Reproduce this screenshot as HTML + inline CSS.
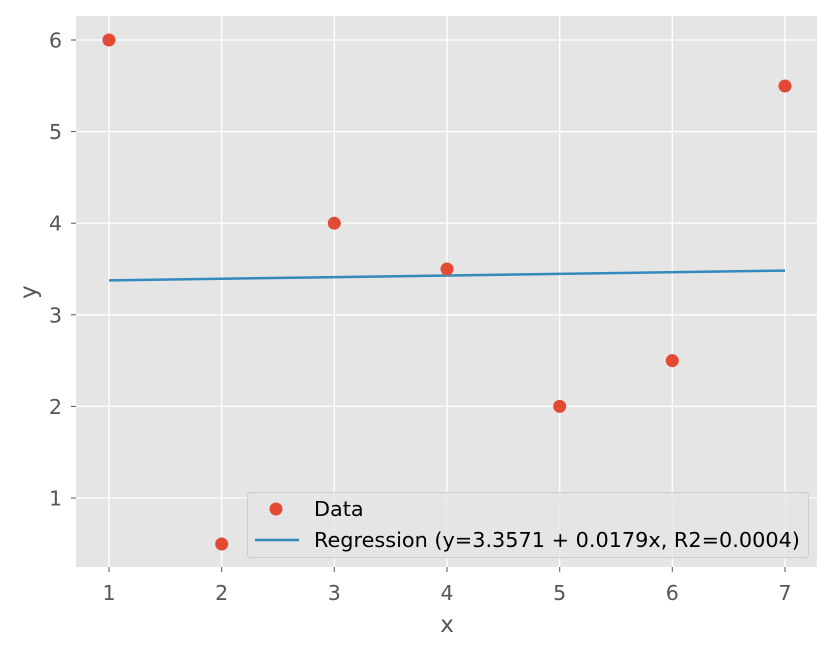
<!DOCTYPE html>
<html><head><meta charset="utf-8"><style>body{margin:0;background:#fff}svg{display:block}</style></head>
<body>
<svg width="834" height="651" viewBox="0 0 834 651" xmlns="http://www.w3.org/2000/svg" font-family="DejaVu Sans, Liberation Sans, sans-serif">
<rect x="76" y="16" width="741" height="551" fill="#e5e5e5"/>
<g stroke="#fff" stroke-width="1.3">
<line x1="109" y1="16" x2="109" y2="567"/><line x1="221.7" y1="16" x2="221.7" y2="567"/>
<line x1="334.3" y1="16" x2="334.3" y2="567"/><line x1="447" y1="16" x2="447" y2="567"/>
<line x1="559.7" y1="16" x2="559.7" y2="567"/><line x1="672.3" y1="16" x2="672.3" y2="567"/>
<line x1="785" y1="16" x2="785" y2="567"/>
<line x1="76" y1="40" x2="817" y2="40"/><line x1="76" y1="131.6" x2="817" y2="131.6"/>
<line x1="76" y1="223.2" x2="817" y2="223.2"/><line x1="76" y1="314.8" x2="817" y2="314.8"/>
<line x1="76" y1="406.4" x2="817" y2="406.4"/><line x1="76" y1="498" x2="817" y2="498"/>
</g>
<g stroke="#555" stroke-width="1">
<line x1="109" y1="567" x2="109" y2="572"/><line x1="221.7" y1="567" x2="221.7" y2="572"/>
<line x1="334.3" y1="567" x2="334.3" y2="572"/><line x1="447" y1="567" x2="447" y2="572"/>
<line x1="559.7" y1="567" x2="559.7" y2="572"/><line x1="672.3" y1="567" x2="672.3" y2="572"/>
<line x1="785" y1="567" x2="785" y2="572"/>
<line x1="71" y1="40" x2="76" y2="40"/><line x1="71" y1="131.6" x2="76" y2="131.6"/>
<line x1="71" y1="223.2" x2="76" y2="223.2"/><line x1="71" y1="314.8" x2="76" y2="314.8"/>
<line x1="71" y1="406.4" x2="76" y2="406.4"/><line x1="71" y1="498" x2="76" y2="498"/>
</g>
<g fill="#555" font-size="20.5" text-anchor="middle">
<text x="109" y="600">1</text><text x="221.7" y="600">2</text><text x="334.3" y="600">3</text>
<text x="447" y="600">4</text><text x="559.7" y="600">5</text><text x="672.3" y="600">6</text>
<text x="785" y="600">7</text>
</g>
<g fill="#555" font-size="20.5" text-anchor="end">
<text x="62" y="47.5">6</text><text x="62" y="139">5</text><text x="62" y="230.7">4</text>
<text x="62" y="322.3">3</text><text x="62" y="413.9">2</text><text x="62" y="505.5">1</text>
</g>
<text x="447" y="632" fill="#555" font-size="23" text-anchor="middle">x</text>
<text transform="translate(36,292) rotate(-90)" fill="#555" font-size="23" text-anchor="middle">y</text>
<line x1="109" y1="280.4" x2="785" y2="270.6" stroke="#348abd" stroke-width="2.5"/>
<g fill="#e24a33">
<circle cx="109" cy="40" r="6.5"/><circle cx="221.7" cy="544" r="6.5"/>
<circle cx="334.3" cy="223.2" r="6.5"/><circle cx="447" cy="269" r="6.5"/>
<circle cx="559.7" cy="406.4" r="6.5"/><circle cx="672.3" cy="360.6" r="6.5"/>
<circle cx="785" cy="86" r="6.5"/>
</g>
<rect x="247.5" y="492.5" width="561" height="65" rx="3" fill="#e5e5e5" fill-opacity="0.8" stroke="#ccc"/>
<circle cx="276" cy="509" r="6.5" fill="#e24a33"/>
<line x1="255" y1="540" x2="299" y2="540" stroke="#348abd" stroke-width="2.5"/>
<g font-size="20.8" fill="#000">
<text x="314" y="516">Data</text>
<text x="314" y="547">Regression (y=3.3571 + 0.0179x, R2=0.0004)</text>
</g>
</svg>
</body></html>
